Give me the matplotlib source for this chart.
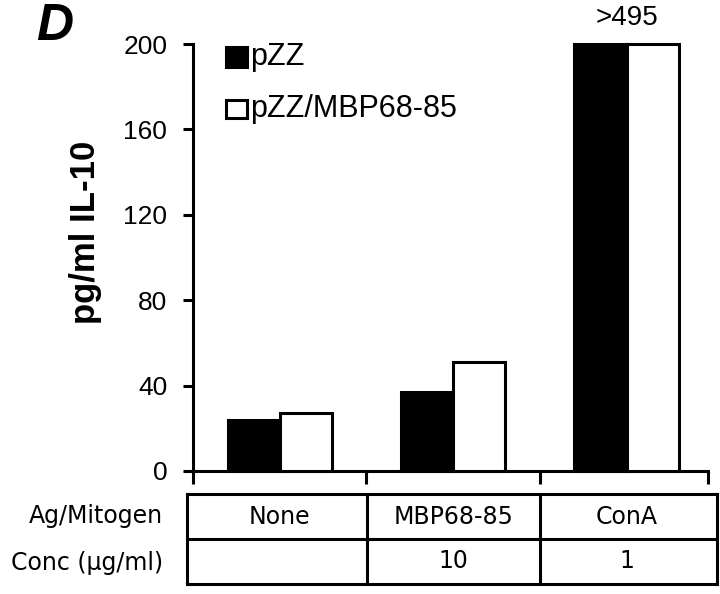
"""IL-10 secretion bar chart (panel D) with condition table below."""

import matplotlib

matplotlib.use("Agg")
import matplotlib.pyplot as plt
from matplotlib.patches import Rectangle


GROUPS = ["None", "MBP68-85", "ConA"]
CONC = ["", "10", "1"]
SERIES = ["pZZ", "pZZ/MBP68-85"]
PZZ = [24, 37, 495]
PZZ_MBP = [27, 51, 495]
YTICKS = [0, 40, 80, 120, 160, 200]
YMAX = 200

BLACK = "#000000"
WHITE = "#ffffff"
LW = 2.2


def style() -> None:
    plt.rcParams.update(
        {
            "font.family": ["Liberation Sans", "DejaVu Sans"],
            "axes.linewidth": LW,
            "xtick.major.width": LW,
            "ytick.major.width": LW,
        }
    )


def main() -> None:
    style()
    fig = plt.figure(figsize=(7.2, 5.94), dpi=100)
    ax = fig.add_axes([193 / 720, 1 - 471 / 594, 515 / 720, 427 / 594])

    width = 0.3
    x = range(len(GROUPS))
    for offset, values, face in [(-width / 2, PZZ, BLACK), (width / 2, PZZ_MBP, WHITE)]:
        ax.bar(
            [i + offset for i in x],
            [min(v, YMAX) for v in values],
            width=width,
            color=face,
            edgecolor=BLACK,
            linewidth=LW,
            clip_on=False,
            zorder=3,
        )

    # value above the clipped ConA bars
    ax.text(2, YMAX + 12, f">{PZZ[2]}", ha="center", va="center", fontsize=20)

    ax.set_xlim(-0.5, 2.47)
    ax.set_ylim(0, YMAX)
    ax.set_yticks(YTICKS)
    ax.set_yticklabels([str(t) for t in YTICKS], fontsize=19)
    ax.set_xticks([-0.5, 0.5, 1.5, 2.47])
    ax.set_xticklabels([])
    ax.tick_params(axis="y", direction="out", length=7.5, pad=11)
    ax.tick_params(axis="x", direction="out", length=9.5)
    for side in ["top", "right"]:
        ax.spines[side].set_visible(False)

    # legend drawn by hand: square handle + label
    for (y0, y1), face, label in [
        ((0.946, 0.993), BLACK, SERIES[0]),
        ((0.827, 0.869), WHITE, SERIES[1]),
    ]:
        ax.add_patch(
            Rectangle(
                (0.064, y0), 0.041, y1 - y0, transform=ax.transAxes,
                facecolor=face, edgecolor=BLACK, linewidth=LW, clip_on=False,
            )
        )
        ax.text(0.111, (y0 + y1) / 2, label, transform=ax.transAxes,
                va="center", ha="left", fontsize=22)

    fig.text(86 / 720, 1 - 232 / 594, "pg/ml IL-10", rotation=90, ha="center",
             va="center", fontsize=25, fontweight="bold")
    fig.text(55 / 720, 1 - 26 / 594, "D", ha="center", va="center", fontsize=37,
             fontweight="bold", fontstyle="italic")

    # condition table under the bars
    tab = fig.add_axes([187 / 720, 1 - 584 / 594, 530 / 720, 90 / 594])
    tab.set_xlim(-0.535, 2.52)
    tab.set_ylim(0, 2)
    tab.set_xticks([])
    tab.set_yticks([])
    tab.axhline(1, color=BLACK, linewidth=LW)
    for b in [0.5, 1.5]:
        tab.axvline(b, color=BLACK, linewidth=LW)
    for i, (name, conc) in enumerate(zip(GROUPS, CONC)):
        tab.text(i, 1.5, name, ha="center", va="center", fontsize=17,
                 family="DejaVu Sans")
        tab.text(i, 0.5, conc, ha="center", va="center", fontsize=17,
                 family="DejaVu Sans")
    fig.text(163 / 720, 1 - 516 / 594, "Ag/Mitogen", ha="right", va="center",
             fontsize=17, family="DejaVu Sans")
    fig.text(163 / 720, 1 - 563 / 594, "Conc (µg/ml)", ha="right", va="center",
             fontsize=17, family="DejaVu Sans")

    fig.savefig("out.png", dpi=100)
    plt.close(fig)


if __name__ == "__main__":
    main()
